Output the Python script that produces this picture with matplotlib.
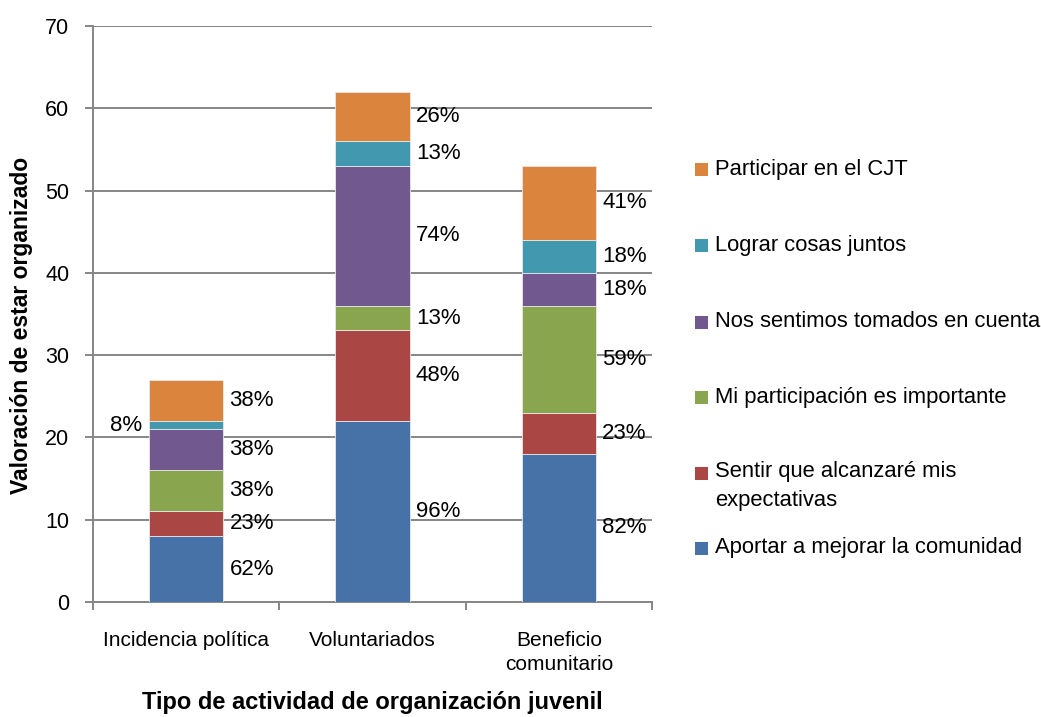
import matplotlib
matplotlib.use("Agg")
import matplotlib.pyplot as plt
from matplotlib.patches import Rectangle
import numpy as np

categories = ["Incidencia política", "Voluntariados", "Beneficio\ncomunitario"]
series_names = [
    "Aportar a mejorar la comunidad",
    "Sentir que alcanzaré mis\nexpectativas",
    "Mi participación es importante",
    "Nos sentimos tomados en cuenta",
    "Lograr cosas juntos",
    "Participar en el CJT",
]
aportar = [8, 22, 18]
sentir = [3, 11, 5]
mi_part = [5, 3, 13]
nos_sent = [5, 17, 4]
lograr = [1, 3, 4]
participar = [5, 6, 9]
values = [aportar, sentir, mi_part, nos_sent, lograr, participar]

pct_aportar = ["62%", "96%", "82%"]
pct_sentir = ["23%", "48%", "23%"]
pct_mi_part = ["38%", "13%", "59%"]
pct_nos_sent = ["38%", "74%", "18%"]
pct_lograr = ["8%", "13%", "18%"]
pct_participar = ["38%", "26%", "41%"]
pcts = [pct_aportar, pct_sentir, pct_mi_part, pct_nos_sent, pct_lograr, pct_participar]

colors = ["#4672A7", "#AA4643", "#89A54E", "#71588F", "#4198AF", "#DB843D"]

plt.rcParams["font.family"] = ["Liberation Sans", "DejaVu Sans"]

W, H = 1041, 717
fig = plt.figure(figsize=(W / 100, H / 100), dpi=100)
ax = fig.add_axes([93 / W, 1 - 602 / H, (652 - 93) / W, (602 - 26) / H])

grid_c = "#868686"
x = np.arange(len(categories))
width = 0.4
bottom = np.zeros(len(categories))
for vals, col, labs in zip(values, colors, pcts):
    v = np.array(vals, dtype=float)
    ax.bar(x, v, width, bottom=bottom, color=col, edgecolor="#e8e8e8",
           linewidth=0.6, zorder=3)
    for xi, b, h, lab in zip(x, bottom, v, labs):
        yc = b + h / 2
        if h < 2:
            ax.annotate(lab, (xi - width / 2, yc), xytext=(-7, 0),
                        textcoords="offset pixels", ha="right", va="center",
                        fontsize=16, color="black", zorder=4)
        else:
            ax.annotate(lab, (xi + width / 2, yc), xytext=(6, 0),
                        textcoords="offset pixels", ha="left", va="center",
                        fontsize=16, color="black", zorder=4)
    bottom = bottom + v

ax.set_xlim(-0.5, 2.5)
ax.set_ylim(0, 70)
ax.set_yticks(np.arange(0, 71, 10))
ax.yaxis.grid(True, color=grid_c, linewidth=1.4, zorder=0)
ax.set_axisbelow(True)
for s in ["top", "right"]:
    ax.spines[s].set_visible(False)
for s in ["left", "bottom"]:
    ax.spines[s].set_color(grid_c)
    ax.spines[s].set_linewidth(1.4)

ax.set_xticks(x)
ax.set_xticklabels(categories, fontsize=15, linespacing=1.35)
ax.set_xticks([-0.5, 0.5, 1.5, 2.5], minor=True)
ax.tick_params(axis="x", which="major", length=0, pad=21)
ax.tick_params(axis="x", which="minor", length=6, width=1.4, color=grid_c)
ax.tick_params(axis="y", length=6, width=1.4, color=grid_c, pad=11, labelsize=15.5)

fig.text(22 / W, 1 - 325 / H, "Valoración de estar organizado", rotation=90,
         ha="center", va="center", fontsize=16.5, fontweight="bold")
fig.text(372 / W, 1 - 703 / H, "Tipo de actividad de organización juvenil",
         ha="center", va="center", fontsize=17, fontweight="bold")

# Legend (reversed order, drawn at right)
leg_y = [548, 473, 398, 322, 246, 169]
for name, col, yy in zip(series_names, colors, leg_y):
    fig.patches.append(Rectangle((695 / W, 1 - (yy + 6.5) / H), 13 / W, 13 / H,
                                 transform=fig.transFigure, facecolor=col,
                                 edgecolor="none"))
    if "\n" in name:
        fig.text(715 / W, 1 - (yy - 12) / H, name, ha="left", va="top",
                 fontsize=15.8, linespacing=1.5)
    else:
        fig.text(715 / W, 1 - yy / H, name, ha="left", va="center",
                 fontsize=15.8)

fig.savefig("out.png", dpi=100)
